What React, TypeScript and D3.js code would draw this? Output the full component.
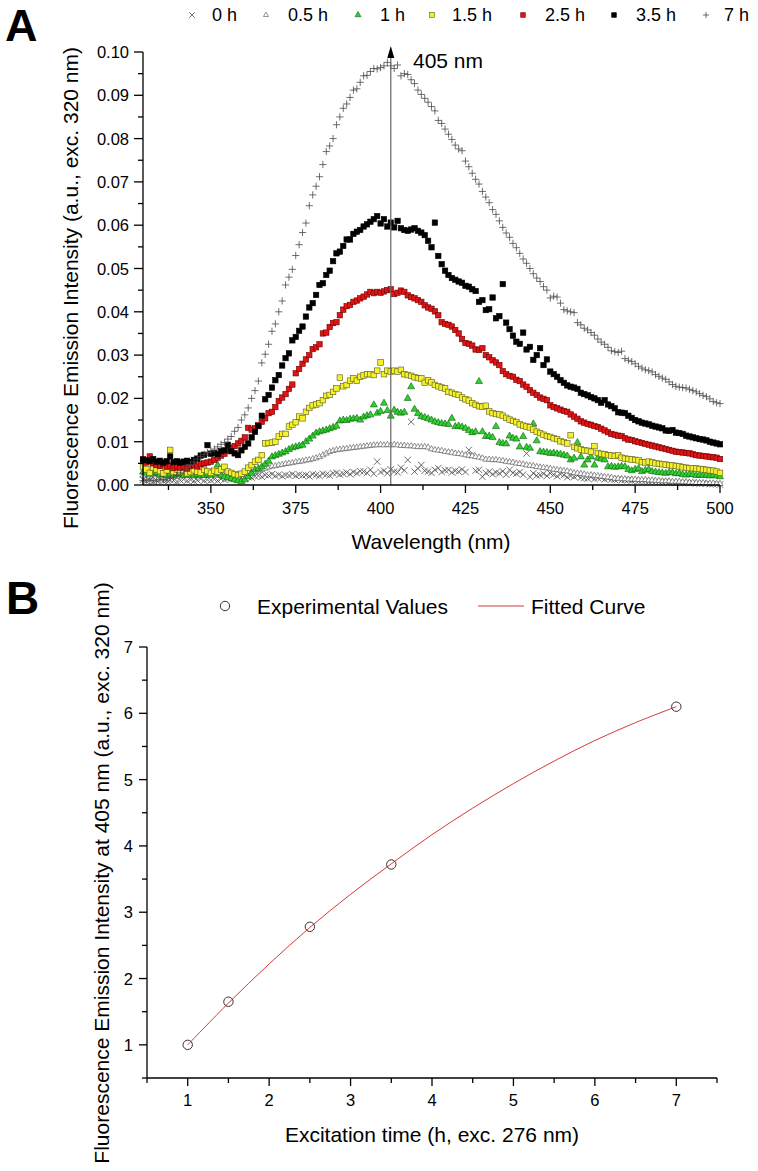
import React from "react";
import * as d3 from "d3";

// ---------- Panel A data (wavelength grid, nm) ----------
const wavelengths = d3.range(330, 501);

const intensity0h = [
  .0012,.0009,.0011,.0008,.0010,.0013,.0009,.0011,.0012,.0010,
  .0008,.0011,.0013,.0010,.0012,.0009,.0011,.0014,.0010,.0012,
  .0011,.0013,.0010,.0014,.0012,.0015,.0013,.0016,.0014,.0017,
  .0015,.0018,.0017,.0020,.0021,.0019,.0023,.0022,.0025,.0021,
  .0024,.0020,.0023,.0022,.0025,.0021,.0024,.0022,.0023,.0020,
  .0025,.0023,.0021,.0026,.0024,.0022,.0027,.0028,.0024,.0026,
  .0029,.0025,.0030,.0027,.0032,.0031,.0028,.0035,.0026,.0054,
  .0030,.0033,.0027,.0036,.0031,.0029,.0040,.0034,.0058,.0146,
  .0031,.0038,.0046,.0033,.0031,.0028,.0035,.0039,.0030,.0034,
  .0035,.0029,.0033,.0031,.0036,.0030,.0081,.0069,.0033,.0035,
  .0019,.0028,.0031,.0025,.0029,.0027,.0032,.0024,.0035,.0028,
  .0026,.0030,.0024,.0073,.0019,.0027,.0022,.0023,.0026,.0021,
  .0027,.0024,.0020,.0025,.0023,.0018,.0021,.0019,.0022,.0017,
  .0016,.0015,.0018,.0014,.0016,.0017,.0013,.0015,.0013,.0012,
  .0014,.0011,.0012,.0012,.0010,.0011,.0009,.0010,.0009,.0008,
  .0009,.0008,.0007,.0007,.0008,.0006,.0006,.0005,.0006,.0005,
  .0005,.0004,.0005,.0004,.0003,.0004,.0003,.0002,.0002,.0002,
  .0001,
];

const intensity05h = [
  .0022,.0025,.0020,.0023,.0026,.0021,.0024,.0022,.0027,.0023,
  .0020,.0024,.0026,.0022,.0025,.0023,.0021,.0026,.0024,.0022,
  .0025,.0023,.0027,.0024,.0026,.0022,.0024,.0021,.0023,.0025,
  .0026,.0028,.0029,.0030,.0032,.0035,.0038,.0041,.0043,.0044,
  .0046,.0047,.0049,.0050,.0051,.0053,.0054,.0055,.0057,.0058,
  .0060,.0062,.0065,.0069,.0073,.0077,.0079,.0081,.0082,.0083,
  .0084,.0085,.0086,.0087,.0088,.0089,.0090,.0091,.0092,.0092,
  .0093,.0092,.0093,.0092,.0093,.0092,.0091,.0091,.0090,.0090,
  .0089,.0088,.0088,.0088,.0087,.0083,.0081,.0080,.0079,.0077,
  .0076,.0075,.0073,.0072,.0071,.0069,.0068,.0067,.0065,.0064,
  .0062,.0059,.0059,.0058,.0058,.0057,.0056,.0054,.0053,.0052,
  .0050,.0049,.0048,.0046,.0045,.0044,.0042,.0041,.0040,.0039,
  .0038,.0036,.0035,.0034,.0033,.0032,.0030,.0028,.0027,.0026,
  .0025,.0023,.0023,.0022,.0021,.0020,.0019,.0018,.0017,.0015,
  .0015,.0014,.0014,.0013,.0013,.0013,.0012,.0012,.0012,.0011,
  .0011,.0010,.0010,.0009,.0009,.0009,.0008,.0008,.0008,.0007,
  .0007,.0006,.0006,.0005,.0005,.0005,.0004,.0004,.0004,.0003,
  .0003,
];

const intensity1h = [
  .0030,.0028,.0025,.0027,.0029,.0024,.0026,.0022,.0025,.0023,
  .0027,.0024,.0022,.0026,.0023,.0021,.0024,.0023,.0022,.0025,
  .0023,.0026,.0046,.0022,.0019,.0017,.0015,.0012,.0010,.0008,
  .0012,.0019,.0027,.0035,.0038,.0042,.0048,.0055,.0065,.0068,
  .0071,.0074,.0077,.0082,.0086,.0088,.0090,.0092,.0100,.0106,
  .0113,.0120,.0123,.0125,.0127,.0130,.0133,.0136,.0148,.0150,
  .0149,.0152,.0153,.0154,.0150,.0157,.0160,.0162,.0185,.0166,
  .0170,.0189,.0172,.0159,.0173,.0168,.0166,.0168,.0200,.0227,
  .0175,.0165,.0158,.0156,.0153,.0150,.0146,.0144,.0142,.0141,
  .0140,.0154,.0135,.0136,.0134,.0131,.0126,.0121,.0123,.0239,
  .0123,.0112,.0113,.0110,.0135,.0098,.0096,.0095,.0113,.0108,
  .0106,.0088,.0112,.0087,.0085,.0141,.0102,.0077,.0076,.0075,
  .0073,.0074,.0072,.0071,.0069,.0067,.0058,.0062,.0098,.0065,
  .0046,.0058,.0065,.0046,.0062,.0060,.0058,.0042,.0043,.0041,
  .0042,.0043,.0042,.0036,.0033,.0036,.0038,.0031,.0034,.0036,
  .0031,.0030,.0029,.0028,.0027,.0029,.0028,.0026,.0027,.0024,
  .0023,.0025,.0024,.0022,.0023,.0022,.0023,.0021,.0022,.0021,
  .0019,
];

const intensity15h = [
  .0042,.0036,.0028,.0040,.0036,.0032,.0027,.0034,.0081,.0030,
  .0036,.0031,.0033,.0027,.0030,.0034,.0031,.0029,.0035,.0032,
  .0028,.0033,.0031,.0036,.0042,.0031,.0028,.0025,.0023,.0026,
  .0031,.0040,.0046,.0054,.0058,.0069,.0096,.0097,.0098,.0100,
  .0112,.0118,.0118,.0135,.0139,.0145,.0158,.0154,.0169,.0178,
  .0184,.0186,.0189,.0196,.0206,.0208,.0215,.0223,.0248,.0228,
  .0231,.0241,.0246,.0241,.0250,.0253,.0256,.0256,.0254,.0264,
  .0283,.0256,.0264,.0262,.0264,.0262,.0266,.0256,.0254,.0252,
  .0249,.0247,.0246,.0236,.0242,.0237,.0231,.0228,.0225,.0223,
  .0215,.0213,.0210,.0208,.0202,.0198,.0195,.0189,.0185,.0182,
  .0181,.0183,.0170,.0166,.0164,.0163,.0160,.0155,.0151,.0148,
  .0145,.0140,.0137,.0135,.0133,.0128,.0123,.0120,.0116,.0113,
  .0111,.0108,.0106,.0101,.0099,.0096,.0115,.0088,.0085,.0082,
  .0080,.0079,.0077,.0090,.0074,.0072,.0071,.0069,.0068,.0067,
  .0069,.0063,.0061,.0060,.0059,.0058,.0057,.0053,.0052,.0054,
  .0052,.0050,.0049,.0048,.0047,.0046,.0045,.0044,.0043,.0041,
  .0040,.0039,.0039,.0038,.0037,.0036,.0035,.0034,.0033,.0031,
  .0028,
];

const intensity25h = [
  .0060,.0052,.0066,.0050,.0046,.0044,.0048,.0042,.0045,.0039,
  .0043,.0040,.0042,.0038,.0044,.0046,.0043,.0048,.0050,.0052,
  .0054,.0058,.0063,.0068,.0072,.0080,.0086,.0090,.0096,.0102,
  .0110,.0132,.0128,.0131,.0138,.0146,.0154,.0166,.0169,.0180,
  .0194,.0202,.0210,.0222,.0232,.0258,.0268,.0280,.0290,.0300,
  .0314,.0318,.0325,.0350,.0352,.0365,.0374,.0376,.0392,.0405,
  .0413,.0416,.0423,.0426,.0431,.0435,.0440,.0446,.0443,.0446,
  .0444,.0447,.0450,.0452,.0441,.0444,.0449,.0446,.0438,.0434,
  .0431,.0427,.0423,.0415,.0410,.0407,.0401,.0392,.0376,.0372,
  .0370,.0366,.0358,.0350,.0337,.0328,.0326,.0322,.0313,.0312,
  .0316,.0300,.0295,.0288,.0283,.0277,.0263,.0256,.0252,.0250,
  .0243,.0240,.0232,.0227,.0219,.0213,.0208,.0202,.0199,.0196,
  .0184,.0180,.0177,.0174,.0171,.0169,.0163,.0158,.0153,.0147,
  .0144,.0141,.0139,.0136,.0134,.0130,.0126,.0122,.0118,.0116,
  .0114,.0113,.0108,.0105,.0104,.0101,.0099,.0097,.0095,.0093,
  .0091,.0089,.0087,.0085,.0083,.0081,.0079,.0077,.0076,.0075,
  .0074,.0073,.0071,.0069,.0068,.0067,.0066,.0065,.0064,.0063,
  .0060,
];

const intensity35h = [
  .0058,.0057,.0055,.0060,.0054,.0056,.0052,.0055,.0066,.0053,
  .0055,.0052,.0054,.0056,.0053,.0058,.0061,.0068,.0070,.0092,
  .0072,.0074,.0071,.0078,.0080,.0093,.0078,.0073,.0069,.0080,
  .0088,.0096,.0110,.0123,.0136,.0160,.0198,.0208,.0225,.0242,
  .0254,.0276,.0293,.0304,.0334,.0342,.0356,.0366,.0389,.0410,
  .0420,.0439,.0462,.0466,.0485,.0495,.0517,.0535,.0539,.0552,
  .0567,.0567,.0580,.0585,.0589,.0597,.0602,.0608,.0614,.0621,
  .0604,.0614,.0597,.0606,.0595,.0610,.0593,.0589,.0587,.0590,
  .0593,.0587,.0583,.0577,.0564,.0549,.0606,.0529,.0510,.0495,
  .0485,.0478,.0474,.0470,.0467,.0460,.0458,.0452,.0448,.0423,
  .0427,.0404,.0406,.0433,.0385,.0390,.0464,.0375,.0360,.0345,
  .0331,.0326,.0352,.0313,.0319,.0289,.0300,.0316,.0277,.0290,
  .0262,.0256,.0250,.0242,.0236,.0230,.0227,.0225,.0222,.0213,
  .0210,.0207,.0203,.0200,.0196,.0190,.0196,.0186,.0182,.0177,
  .0168,.0167,.0166,.0160,.0155,.0150,.0147,.0144,.0142,.0140,
  .0137,.0135,.0133,.0131,.0126,.0125,.0127,.0121,.0120,.0118,
  .0114,.0112,.0110,.0108,.0106,.0105,.0103,.0100,.0098,.0096,
  .0094,
];

const intensity7h = [
  .0010,.0012,.0010,.0011,.0009,.0012,.0013,.0011,.0015,.0018,
  .0022,.0028,.0034,.0040,.0047,.0053,.0060,.0066,.0071,.0075,
  .0079,.0083,.0088,.0094,.0098,.0106,.0112,.0124,.0133,.0150,
  .0162,.0178,.0200,.0218,.0240,.0282,.0302,.0325,.0355,.0372,
  .0400,.0425,.0462,.0480,.0498,.0530,.0555,.0583,.0605,.0645,
  .0670,.0690,.0712,.0740,.0770,.0783,.0800,.0832,.0850,.0870,
  .0880,.0895,.0912,.0915,.0930,.0945,.0946,.0955,.0962,.0961,
  .0964,.0968,.0976,.0968,.0962,.0970,.0945,.0950,.0948,.0936,
  .0927,.0912,.0902,.0893,.0884,.0874,.0864,.0842,.0835,.0822,
  .0810,.0798,.0785,.0776,.0772,.0748,.0735,.0720,.0706,.0695,
  .0678,.0665,.0652,.0636,.0625,.0610,.0595,.0582,.0572,.0558,
  .0548,.0535,.0522,.0512,.0500,.0488,.0478,.0470,.0458,.0450,
  .0432,.0436,.0434,.0420,.0405,.0402,.0400,.0398,.0375,.0370,
  .0362,.0358,.0352,.0346,.0337,.0330,.0325,.0318,.0310,.0308,
  .0306,.0309,.0292,.0288,.0285,.0280,.0274,.0270,.0266,.0264,
  .0261,.0255,.0251,.0247,.0244,.0238,.0232,.0228,.0226,.0225,
  .0224,.0221,.0218,.0215,.0211,.0207,.0204,.0199,.0193,.0190,
  .0188,
];

const seriesLabels = ["0 h", "0.5 h", "1 h", "1.5 h", "2.5 h", "3.5 h", "7 h"];
const seriesValues = [intensity0h, intensity05h, intensity1h, intensity15h, intensity25h, intensity35h, intensity7h];

const xTicksA = [350, 375, 400, 425, 450, 475, 500];
const xMinorA = [337.5, 362.5, 387.5, 412.5, 437.5, 462.5, 487.5];
const yTicksA = [0, 0.01, 0.02, 0.03, 0.04, 0.05, 0.06, 0.07, 0.08, 0.09, 0.1];
const yMinorA = [0.005, 0.015, 0.025, 0.035, 0.045, 0.055, 0.065, 0.075, 0.085, 0.095];
const arrowWavelength = 403;
const arrowLabel = "405 nm";

// ---------- Panel B data ----------
const excitationTime = [1, 1.5, 2.5, 3.5, 7];
const intensity405 = [1.0, 1.65, 2.78, 3.72, 6.1];
const fitTime = [1, 1.5, 2, 2.5, 3, 3.5, 4, 4.5, 5, 5.5, 6, 6.5, 7];
const fitIntensity = [1.0, 1.63, 2.22, 2.77, 3.27, 3.73, 4.17, 4.57, 4.94, 5.28, 5.59, 5.86, 6.1];
const xTicksB = [1, 2, 3, 4, 5, 6, 7];
const xMinorB = [0.5, 1.5, 2.5, 3.5, 4.5, 5.5, 6.5, 7.5];
const yTicksB = [1, 2, 3, 4, 5, 6, 7];
const yMinorB = [0.5, 1.5, 2.5, 3.5, 4.5, 5.5, 6.5];

// ---------- styles ----------
const FONT = "'Liberation Sans', Arial, Helvetica, sans-serif";
const GRAY = "#4a4a4a";
const markerStyle: Record<string, { kind: string; fill: string; stroke: string; size: number }> = {
  "0 h": { kind: "x", fill: "none", stroke: GRAY, size: 3.2 },
  "0.5 h": { kind: "tri", fill: "#fff", stroke: GRAY, size: 6 },
  "1 h": { kind: "tri", fill: "#2fd12f", stroke: "#0b5e0b", size: 7 },
  "1.5 h": { kind: "sq", fill: "#f4f02a", stroke: "#5a5a20", size: 5.6 },
  "2.5 h": { kind: "sq", fill: "#e01414", stroke: "#6a0000", size: 5.4 },
  "3.5 h": { kind: "sq", fill: "#000", stroke: "#000", size: 5.4 },
  "7 h": { kind: "plus", fill: "none", stroke: GRAY, size: 3.6 },
};

function Marker({ x, y, label, scale = 1 }: { x: number; y: number; label: string; scale?: number }) {
  const st = markerStyle[label];
  const s = st.size * scale;
  if (st.kind === "x") {
    return <path d={`M${x - s},${y - s}L${x + s},${y + s}M${x - s},${y + s}L${x + s},${y - s}`} stroke={st.stroke} strokeWidth={0.8} fill="none" />;
  }
  if (st.kind === "plus") {
    return <path d={`M${x - s},${y}H${x + s}M${x},${y - s}V${y + s}`} stroke={st.stroke} strokeWidth={0.8} fill="none" />;
  }
  if (st.kind === "tri") {
    const h = (s * Math.sqrt(3)) / 2;
    return <path d={`M${x},${y - (2 * h) / 3}L${x + s / 2},${y + h / 3}L${x - s / 2},${y + h / 3}Z`} fill={st.fill} stroke={st.stroke} strokeWidth={0.6} />;
  }
  return <rect x={x - s / 2} y={y - s / 2} width={s} height={s} fill={st.fill} stroke={st.stroke} strokeWidth={0.6} />;
}

export default function App() {
  const W = 758, H = 1171;
  // Panel A scales
  const xA = d3.scaleLinear().domain([330, 500]).range([143, 720]);
  const yA = d3.scaleLinear().domain([0, 0.1]).range([485, 52]);
  // Panel B scales
  const xB = d3.scaleLinear().domain([0.5, 7.5]).range([147, 717]);
  const yB = d3.scaleLinear().domain([0.5, 7]).range([1078, 647]);

  const fitLine = d3
    .line<number>()
    .x((_, i) => xB(fitTime[i]))
    .y((d) => yB(d))
    .curve(d3.curveCatmullRom.alpha(0.5));

  const legendA = [
    { m: 192, t: 212 },
    { m: 266, t: 288 },
    { m: 358, t: 380 },
    { m: 432, t: 452 },
    { m: 523, t: 545 },
    { m: 614, t: 636 },
    { m: 706, t: 724 },
  ];

  const ax = "#000";
  const axW = 1.3;

  return (
    <svg width={W} height={H} style={{ position: "absolute", left: 0, top: 0, background: "#fff" }} fontFamily={FONT}>
      <rect x={0} y={0} width={W} height={H} fill="#fff" />
      {/* ================= Panel A ================= */}
      <text x={5} y={41} fontSize={45} fontWeight="bold">A</text>

      {/* legend */}
      {seriesLabels.map((lab, i) => (
        <g key={lab}>
          <Marker x={legendA[i].m} y={15} label={lab} scale={0.85} />
          <text x={legendA[i].t} y={15} fontSize={18} dominantBaseline="central">{lab}</text>
        </g>
      ))}

      {/* series */}
      {seriesValues.map((vals, si) => (
        <g key={seriesLabels[si]}>
          {vals.map((v, i) => (
            <Marker key={i} x={xA(wavelengths[i])} y={yA(v)} label={seriesLabels[si]} />
          ))}
        </g>
      ))}

      {/* arrow */}
      <line x1={xA(arrowWavelength)} x2={xA(arrowWavelength)} y1={yA(0)} y2={56} stroke="#666" strokeWidth={1.2} />
      <path d={`M${xA(arrowWavelength)},46L${xA(arrowWavelength) + 3.5},58L${xA(arrowWavelength) - 3.5},58Z`} fill="#000" />
      <text x={413} y={60} fontSize={21} dominantBaseline="central">{arrowLabel}</text>

      {/* axes A */}
      <line x1={xA(330)} x2={xA(500)} y1={yA(0)} y2={yA(0)} stroke={ax} strokeWidth={axW} />
      <line x1={xA(330)} x2={xA(330)} y1={yA(0)} y2={yA(0.1)} stroke={ax} strokeWidth={axW} />
      {xTicksA.map((t) => (
        <g key={t}>
          <line x1={xA(t)} x2={xA(t)} y1={yA(0)} y2={yA(0) + 8} stroke={ax} strokeWidth={axW} />
          <text x={xA(t)} y={508} fontSize={16.5} textAnchor="middle" dominantBaseline="central">{t}</text>
        </g>
      ))}
      {xMinorA.map((t) => (
        <line key={t} x1={xA(t)} x2={xA(t)} y1={yA(0)} y2={yA(0) + 5} stroke={ax} strokeWidth={axW} />
      ))}
      {yTicksA.map((t) => (
        <g key={t}>
          <line x1={xA(330) - 9} x2={xA(330)} y1={yA(t)} y2={yA(t)} stroke={ax} strokeWidth={axW} />
          <text x={129} y={yA(t)} fontSize={16.5} textAnchor="end" dominantBaseline="central">{t.toFixed(2)}</text>
        </g>
      ))}
      {yMinorA.map((t) => (
        <line key={t} x1={xA(330) - 5} x2={xA(330)} y1={yA(t)} y2={yA(t)} stroke={ax} strokeWidth={axW} />
      ))}
      <text x={431} y={541} fontSize={21} textAnchor="middle" dominantBaseline="central">Wavelength (nm)</text>
      <text transform="translate(70,288) rotate(-90)" fontSize={21} textAnchor="middle" dominantBaseline="central">
        Fluorescence Emission Intensity (a.u., exc. 320 nm)
      </text>

      {/* ================= Panel B ================= */}
      <text x={6} y={614} fontSize={46} fontWeight="bold">B</text>

      {/* legend B */}
      <circle cx={225} cy={606} r={4.7} fill="none" stroke="#333" strokeWidth={1} />
      <text x={257} y={606} fontSize={21} dominantBaseline="central">Experimental Values</text>
      <line x1={478} x2={524} y1={606} y2={606} stroke="#d43a3a" strokeWidth={1} />
      <text x={531} y={606} fontSize={21} dominantBaseline="central">Fitted Curve</text>

      {/* fitted curve */}
      <path d={fitLine(fitIntensity) || ""} fill="none" stroke="#d43a3a" strokeWidth={1} />
      {excitationTime.map((t, i) => (
        <circle key={t} cx={xB(t)} cy={yB(intensity405[i])} r={4.7} fill="none" stroke="#333" strokeWidth={1} />
      ))}

      {/* axes B */}
      <line x1={xB(0.5)} x2={xB(7.5)} y1={yB(0.5)} y2={yB(0.5)} stroke={ax} strokeWidth={axW} />
      <line x1={xB(0.5)} x2={xB(0.5)} y1={yB(0.5)} y2={yB(7)} stroke={ax} strokeWidth={axW} />
      {xTicksB.map((t) => (
        <g key={t}>
          <line x1={xB(t)} x2={xB(t)} y1={yB(0.5)} y2={yB(0.5) + 8} stroke={ax} strokeWidth={axW} />
          <text x={xB(t)} y={1100} fontSize={16.5} textAnchor="middle" dominantBaseline="central">{t}</text>
        </g>
      ))}
      {xMinorB.map((t) => (
        <line key={t} x1={xB(t)} x2={xB(t)} y1={yB(0.5)} y2={yB(0.5) + 5} stroke={ax} strokeWidth={axW} />
      ))}
      {yTicksB.map((t) => (
        <g key={t}>
          <line x1={xB(0.5) - 8} x2={xB(0.5)} y1={yB(t)} y2={yB(t)} stroke={ax} strokeWidth={axW} />
          <text x={133} y={yB(t)} fontSize={16.5} textAnchor="end" dominantBaseline="central">{t}</text>
        </g>
      ))}
      {yMinorB.map((t) => (
        <line key={t} x1={xB(0.5) - 5} x2={xB(0.5)} y1={yB(t)} y2={yB(t)} stroke={ax} strokeWidth={axW} />
      ))}
      <text x={432} y={1134} fontSize={21} textAnchor="middle" dominantBaseline="central">Excitation time (h, exc. 276 nm)</text>
      <text transform="translate(101,873) rotate(-90)" fontSize={21} textAnchor="middle" dominantBaseline="central">
        Fluorescence Emission Intensity at 405 nm (a.u., exc. 320 nm)
      </text>
    </svg>
  );
}
